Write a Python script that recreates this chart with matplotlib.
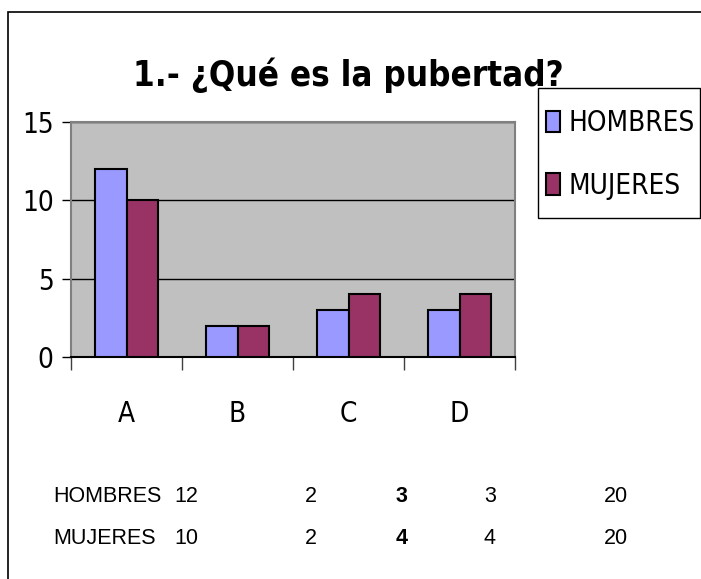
import matplotlib
matplotlib.use("Agg")
import matplotlib.pyplot as plt
from matplotlib.patches import Rectangle
import numpy as np

categorias = ["A", "B", "C", "D"]
hombres = [12, 2, 3, 3]
mujeres = [10, 2, 4, 4]
tabla_hombres = ["12", "2", "3", "3", "20"]
tabla_mujeres = ["10", "2", "4", "4", "20"]
titulo = "1.- ¿Qué es la pubertad?"

narrow = ["DejaVu Sans"]
plt.rcParams['font.family'] = ["Liberation Sans", "DejaVu Sans"]

W, H = 701, 579
fig = plt.figure(figsize=(W / 100, H / 100), dpi=100)

# marco exterior (solo borde izquierdo y superior visibles)
fig.patches.append(Rectangle((8 / W, -0.1), 1.2, 1 - 12 / H + 0.1, transform=fig.transFigure,
                             fill=False, edgecolor="black", linewidth=1.2, zorder=0))

ax = fig.add_axes([71 / W, 1 - 357 / H, 444 / W, 235 / H])
ax.set_facecolor("#C0C0C0")

x = np.arange(len(categorias))
bw = 1 / 3.5
b1 = ax.bar(x - bw / 2, hombres, bw, color="#9999FF", edgecolor="black", linewidth=1.5, label="HOMBRES", zorder=3)
b2 = ax.bar(x + bw / 2, mujeres, bw, color="#993366", edgecolor="black", linewidth=1.5, label="MUJERES", zorder=3)

ax.set_xlim(-0.5, 3.5)
ax.set_ylim(0, 15)
ax.set_yticks([0, 5, 10, 15])
ax.set_yticklabels(["0", "5", "10", "15"], fontfamily=narrow, fontstretch="condensed", fontsize=20)
ax.tick_params(axis="y", length=6.5, width=1, color="black", pad=6)
ax.yaxis.grid(True, color="black", linewidth=1, zorder=1)
ax.set_axisbelow(True)

ax.set_xticks(np.arange(-0.5, 4, 1))
ax.set_xticklabels([])
ax.tick_params(axis="x", which="major", length=9.5, width=1, color="#404040")
ax.set_xticks(x, minor=True)
ax.set_xticklabels(categorias, minor=True, fontfamily=narrow, fontstretch="condensed", fontsize=20)
ax.tick_params(axis="x", which="minor", length=0, pad=31)

for s in ["top", "right", "left"]:
    ax.spines[s].set_color("#808080")
    ax.spines[s].set_linewidth(1.5)
ax.spines["bottom"].set_color("black")
ax.spines["bottom"].set_linewidth(1.5)

fig.text(348 / W, 1 - 75 / H, titulo, ha="center", va="center", fontsize=25,
         fontweight="bold", fontfamily=narrow, fontstretch="condensed")

# caja de la leyenda
fig.patches.append(Rectangle((538 / W, 1 - 218 / H), 162 / W, 130 / H, transform=fig.transFigure,
                             facecolor="white", edgecolor="black", linewidth=1, zorder=1))
leg = fig.legend(handles=[b1, b2], loc="upper left", bbox_to_anchor=(546 / W, 1 - 109 / H),
                 prop={"family": narrow, "size": 20, "stretch": "condensed"}, frameon=False,
                 handlelength=0.5, handleheight=0.8, handletextpad=0.3, labelspacing=1.25,
                 borderpad=0, borderaxespad=0)
leg.set_zorder(2)

# tabla de datos bajo el gráfico
cols = [174, 305, 396, 484, 604]
for fila, (nombre, vals) in enumerate([("HOMBRES", tabla_hombres), ("MUJERES", tabla_mujeres)]):
    yy = 1 - (497 + fila * 41) / H
    fig.text(53 / W, yy, nombre, ha="left", va="center", fontsize=15.5)
    for i, v in enumerate(vals):
        fig.text(cols[i] / W, yy, v, ha="left", va="center", fontsize=15.5,
                 fontweight="bold" if i == 2 else "normal")

fig.savefig("out.png", dpi=100)
